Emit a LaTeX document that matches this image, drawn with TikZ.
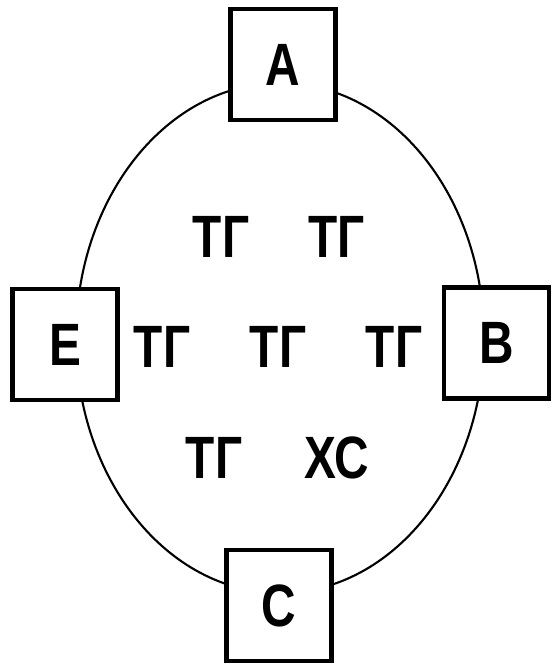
\documentclass[tikz,border=0pt]{standalone}
\usepackage{fontspec}
\newfontfamily\diafont{Liberation Sans}[FakeStretch=0.8]
\begin{document}
\begin{tikzpicture}[every node/.style={font=\diafont\bfseries\fontsize{34}{34}\selectfont}]
  \tikzset{unitbox/.style={draw,line width=2.6pt,fill=white,minimum width=2.1cm,minimum height=2.22cm,inner sep=0pt}}
  \useasboundingbox (-5.6,-6.56) rectangle (5.42,6.76);
  \draw[line width=1.2pt] (0,0) ellipse (4.08 and 5.1);
  % units on the ring
  \node[unitbox] (unitA) at (0.06,5.47) {A};
  \node[unitbox] (unitB) at (4.33,-0.1) {B};
  \node[unitbox] (unitC) at (-0.02,-5.35) {C};
  \node[unitbox] (unitE) at (-4.3,-0.13) {E};
  % generators inside
  \foreach \x/\y/\n in {-1.18/2.03/g1,1.13/2.03/g2,-2.36/-0.17/g3,-0.04/-0.17/g4,2.28/-0.17/g5,-1.32/-2.39/g6}
    \node (\n) at (\x,\y) {ТГ};
  \node (xc) at (1.14,-2.39) {ХС};
\end{tikzpicture}
\end{document}
